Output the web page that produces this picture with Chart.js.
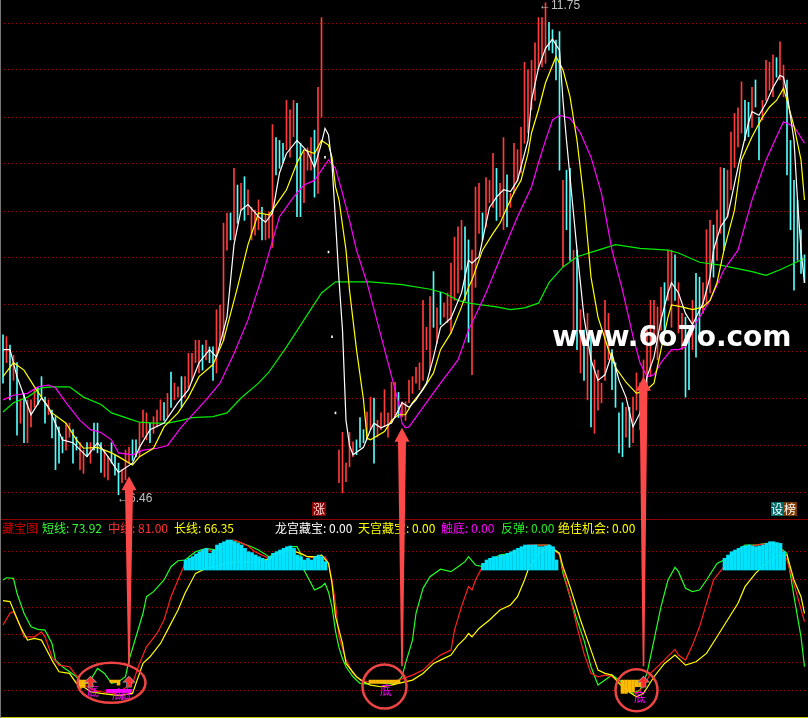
<!DOCTYPE html>
<html lang="zh">
<head>
<meta charset="UTF-8">
<title>藏宝图</title>
<script src="https://cdn.jsdelivr.net/npm/chart.js"></script>
<style>
  html, body { margin: 0; padding: 0; background: #000; }
  #wrap { position: relative; width: 808px; height: 718px; background: #000; overflow: hidden; }
  #wrap canvas { position: absolute; left: 0; }
  .t { position: absolute; top: 521px; font-family: "Noto Sans CJK SC", sans-serif; font-size: 12px; line-height: 14px; white-space: nowrap; }
  .di { position: absolute; font-family: "Noto Sans CJK SC", sans-serif; font-size: 12px; line-height: 14px; color: #ff00ff; }
  .px { position: absolute; font-family: "Liberation Sans", sans-serif; font-size: 12px; line-height: 14px; color: #c0c0c0; white-space: nowrap; }
  .tag { position: absolute; top: 502px; height: 14px; font-family: "Noto Sans CJK SC", sans-serif; font-size: 12px; line-height: 14px; text-align: center; }
  #site { position: absolute; left: 552px; top: 323px; font-family: "DejaVu Sans", sans-serif; font-weight: bold; font-size: 28px; line-height: 28px; color: #fff; white-space: nowrap; }
</style>
</head>
<body>
<div id="wrap">
  <canvas id="priceChart" width="808" height="518" style="top:0"></canvas>
  <canvas id="oscChart" width="808" height="198" style="top:520px"></canvas>
  <div style="position:absolute;left:0;top:519px;width:808px;height:1px;background:#8c0000"></div>
  <div style="position:absolute;left:0;top:717px;width:808px;height:1px;background:#c8c800"></div>
  <div style="position:absolute;left:0;top:0;width:1px;height:718px;background:#777"></div>

  <span class="t" style="left:2px;color:#c80000">藏宝图</span>
  <span class="t" style="left:42px;color:#33ff33">短线: 73.92</span>
  <span class="t" style="left:108px;color:#ff3333">中线: 81.00</span>
  <span class="t" style="left:174px;color:#ffff00">长线: 66.35</span>
  <span class="t" style="left:275px;color:#ffffff">龙宫藏宝: 0.00</span>
  <span class="t" style="left:358px;color:#ffff00">天宫藏宝: 0.00</span>
  <span class="t" style="left:441px;color:#ff00ff">触底: 0.00</span>
  <span class="t" style="left:501px;color:#22ee22">反弹: 0.00</span>
  <span class="t" style="left:558px;color:#ffff00">绝佳机会: 0.00</span>

  <span class="tag" style="left:312px;width:14px;background:#8b0000;color:#ffd8d8">涨</span>
  <span class="tag" style="left:771px;width:12px;background:#006c6c;color:#fff">设</span>
  <span class="tag" style="left:783px;width:14px;background:#7a3a00;color:#fff">榜</span>

  <span class="px" style="left:539px;top:-2px">←11.75</span>
  <span class="px" style="left:117px;top:491px">←6.46</span>

  <span class="di" style="left:87px;top:684px">底</span>
  <span class="di" style="left:112px;top:687px">底</span>
  <span class="di" style="left:121px;top:687px">底</span>
  <span class="di" style="left:380px;top:683px">底</span>
  <span class="di" style="left:634px;top:690px">底</span>

  <canvas id="marks" width="808" height="718" style="top:0"></canvas>
  <div id="site">www.6o7o.com</div>
</div>
<script>
// K线: 每根的最高价/最低价, r=阳 c=阴 w=一字
const candleHigh = [
  8.18, 8.16, 8.07, 7.96, 7.88, 7.48, 7.55, 7.48, 7.48, 7.59,
  7.61, 7.73, 7.51, 7.48, 7.37, 7.30, 7.19, 7.08, 7.23, 7.23,
  7.16, 7.08, 7.02, 6.94, 7.02, 7.02, 7.23, 7.23, 7.02, 6.94,
  6.87, 7.02, 6.89, 6.80, 6.73, 6.94, 6.97, 7.05, 7.05, 7.23,
  7.37, 7.34, 7.23, 7.30, 7.37, 7.48, 7.45, 7.55, 7.78, 7.66,
  7.62, 7.73, 7.73, 7.98, 7.98, 8.12, 8.12, 8.07, 8.12, 8.05,
  8.05, 8.45, 8.50, 9.38, 9.49, 9.49, 9.97, 9.79, 9.81, 9.88,
  9.74, 9.55, 9.52, 9.63, 9.55, 9.47, 9.50, 10.44, 10.30, 10.27,
  10.24, 10.70, 10.60, 10.70, 10.67, 10.24, 10.15, 10.19, 10.30, 10.38,
  10.84, 11.59, 10.10, 9.08, 8.17, 7.35, 6.94, 7.13, 6.80, 7.13,
  7.03, 7.05, 7.29, 7.16, 7.35, 7.51, 7.50, 7.26, 7.34, 7.59,
  7.34, 7.67, 7.67, 7.56, 7.46, 7.46, 7.69, 7.73, 7.83, 7.88,
  8.55, 8.26, 8.59, 8.86, 8.47, 8.64, 8.52, 8.63, 8.95, 9.23,
  9.34, 9.41, 9.34, 9.20, 9.09, 9.77, 9.81, 9.49, 9.87, 9.84,
  10.13, 9.97, 9.81, 10.30, 9.90, 9.70, 10.24, 10.17, 10.41, 11.11,
  11.03, 11.13, 11.32, 11.59, 11.59, 11.75, 11.54, 11.46, 11.35, 11.44,
  9.84, 9.95, 9.97, 9.09, 9.09, 8.45, 8.23, 8.41, 8.16, 7.91,
  7.80, 7.66, 8.55, 8.41, 8.02, 7.88, 7.34, 7.45, 7.40, 7.40,
  7.51, 7.77, 7.66, 7.91, 8.23, 8.55, 8.55, 8.48, 8.69, 8.74,
  9.09, 9.09, 9.04, 8.74, 8.41, 8.37, 8.20, 8.55, 8.84, 8.80,
  8.74, 9.31, 9.41, 9.36, 9.52, 9.98, 9.97, 9.95, 10.36, 10.56,
  10.62, 10.90, 10.70, 10.68, 10.84, 10.92, 10.52, 10.70, 11.13, 11.11,
  11.19, 11.16, 11.33, 11.08, 10.92, 10.27, 9.84, 9.63, 9.31, 9.04
];
const candleLow = [
  7.66, 7.88, 7.48, 7.69, 7.10, 7.23, 7.02, 7.02, 7.19, 7.40,
  7.43, 7.51, 7.23, 7.32, 7.07, 6.73, 6.80, 6.91, 6.94, 7.08,
  6.80, 6.94, 6.73, 6.69, 6.87, 6.80, 6.94, 6.91, 6.70, 6.65,
  6.62, 6.80, 6.67, 6.46, 6.59, 6.62, 6.80, 6.83, 6.87, 6.87,
  7.08, 7.05, 7.02, 7.12, 7.19, 7.26, 7.26, 7.30, 7.40, 7.48,
  7.51, 7.40, 7.51, 7.59, 7.69, 7.88, 7.77, 7.80, 7.91, 7.88,
  7.69, 7.77, 8.07, 8.12, 9.09, 9.20, 9.20, 9.38, 9.52, 9.41,
  9.47, 9.20, 9.25, 9.31, 9.20, 9.20, 9.22, 9.12, 9.90, 9.97,
  10.03, 10.17, 10.09, 10.31, 9.45, 9.45, 9.60, 9.95, 9.95, 9.66,
  9.70, 10.52, 10.08, 9.06, 8.15, 7.33, 6.59, 6.48, 6.60, 6.76,
  6.87, 6.89, 6.97, 7.02, 7.05, 7.16, 6.80, 7.08, 7.16, 7.19,
  7.08, 7.23, 7.29, 7.29, 7.30, 7.26, 7.45, 7.55, 7.66, 7.59,
  7.69, 8.02, 7.80, 8.26, 8.09, 8.29, 8.37, 8.31, 8.20, 8.55,
  8.63, 8.88, 8.55, 8.10, 7.75, 8.69, 9.27, 9.20, 9.34, 9.60,
  9.55, 9.41, 9.45, 9.31, 9.34, 9.55, 9.70, 9.84, 9.92, 10.24,
  10.35, 10.60, 10.70, 11.03, 11.06, 11.10, 11.24, 11.21, 10.92, 9.95,
  8.91, 9.31, 8.98, 8.12, 8.02, 7.77, 7.69, 7.48, 7.19, 7.12,
  7.37, 7.45, 7.69, 7.91, 7.59, 7.40, 6.91, 6.87, 7.08, 6.97,
  7.02, 7.37, 7.16, 7.37, 7.59, 7.73, 8.09, 7.91, 8.23, 8.20,
  8.55, 8.26, 8.55, 8.20, 8.02, 7.51, 7.59, 8.02, 7.94, 8.16,
  8.41, 8.52, 8.63, 8.80, 8.98, 9.27, 9.09, 9.45, 9.74, 9.98,
  10.20, 10.35, 10.27, 10.31, 10.41, 10.63, 10.06, 10.49, 10.70, 10.81,
  10.74, 10.95, 10.92, 10.74, 9.90, 9.31, 8.66, 8.98, 8.84, 8.74
];
const candleTone = [
  "crcrcrcrrr", "cccrccccrr", "ccrrcrcccr", "rcccrrrccr", "rrcrrrcrcr",
  "rcrrrrrcrc", "crrrrcrcrc", "rrrrcrrrcc", "crrrccrrrc", "rrwwwwrrrr",
  "rcccrrcrrr", "rrrcrrrrrr", "rrrcrcrrrr", "rrccrrrcrr", "rcrrcrrrrr",
  "rrrrrrcccc", "rccrcrcrcr", "rrrrccccrc", "rrrrrrrrrc", "rrcrrccrcc",
  "rrrcrrcrrr", "rrccrccrrr", "rcrrcccccc"
].join('');

// 均线 [K线序号, 价格]
const ma5 = [[0,8.02],[2,8.02],[4,7.73],[8,7.32],[11,7.50],[13,7.40],[17,7.05],[20,7.02],[24,6.87],[27,7.02],[30,6.87],[33,6.70],[37,6.80],[39,6.97],[42,7.16],[46,7.23],[50,7.45],[53,7.59],[56,7.88],[59,8.02],[61,7.94],[64,8.37],[66,9.15],[68,9.52],[70,9.58],[73,9.45],[75,9.39],[77,9.49],[79,9.92],[81,10.13],[84,10.27],[87,10.15],[89,9.98],[91,10.24],[92,10.40],[93,10.33],[94,10.01],[95,9.41],[96,8.77],[97,8.23],[98,7.26],[99,6.99],[100,6.89],[103,6.97],[105,7.16],[106,7.23],[108,7.18],[111,7.23],[113,7.37],[114,7.45],[116,7.40],[118,7.48],[121,7.66],[123,7.94],[125,8.26],[128,8.36],[131,8.63],[133,8.98],[134,8.95],[136,9.02],[139,9.55],[141,9.66],[143,9.74],[145,9.72],[147,9.84],[150,10.27],[151,10.70],[153,11.05],[155,11.26],[157,11.36],[159,11.24],[160,10.70],[161,10.27],[162,9.88],[164,9.09],[166,8.37],[168,7.91],[170,7.69],[172,7.75],[174,7.98],[176,7.69],[178,7.51],[180,7.19],[182,7.34],[184,7.73],[186,7.94],[188,8.34],[190,8.63],[191,8.74],[193,8.63],[195,8.41],[197,8.29],[200,8.52],[202,8.80],[203,9.09],[205,9.34],[207,9.45],[210,9.98],[213,10.46],[214,10.58],[216,10.54],[218,10.67],[220,10.84],[222,10.97],[223,10.95],[224,10.78],[226,10.27],[227,9.63],[228,9.09],[229,8.74]];
const ma10 = [[0,7.73],[3,7.88],[6,7.80],[9,7.62],[11,7.51],[14,7.34],[18,7.23],[21,7.05],[23,6.96],[27,6.97],[31,6.91],[33,6.87],[37,6.78],[39,6.87],[43,6.96],[46,7.19],[50,7.34],[53,7.51],[56,7.73],[60,7.86],[63,8.12],[67,8.69],[70,9.15],[73,9.49],[76,9.47],[77,9.52],[79,9.63],[81,9.74],[84,10.03],[86,10.17],[89,10.13],[91,10.27],[93,10.22],[94,10.09],[95,9.77],[96,9.63],[98,9.09],[99,8.66],[101,8.02],[103,7.48],[104,7.07],[105,7.05],[109,7.14],[111,7.26],[113,7.32],[115,7.32],[117,7.45],[120,7.59],[123,7.77],[125,8.02],[128,8.20],[131,8.48],[133,8.69],[134,8.77],[137,9.09],[140,9.27],[142,9.38],[144,9.55],[146,9.71],[148,9.84],[150,10.13],[151,10.35],[153,10.60],[155,10.89],[158,11.17],[160,11.03],[162,10.74],[164,10.27],[166,9.63],[168,8.80],[170,8.37],[173,8.02],[175,7.83],[178,7.67],[181,7.55],[184,7.59],[186,7.66],[188,8.02],[190,8.37],[191,8.50],[194,8.48],[197,8.45],[200,8.48],[202,8.55],[204,8.74],[206,9.09],[209,9.52],[211,10.06],[214,10.31],[217,10.52],[219,10.63],[221,10.70],[223,10.83],[224,10.70],[226,10.42],[228,10.06],[229,9.63]];
const ma20 = [[0,7.48],[3,7.53],[7,7.55],[10,7.62],[13,7.64],[15,7.61],[18,7.45],[22,7.26],[25,7.16],[28,7.13],[31,7.05],[33,6.91],[37,6.89],[40,6.94],[44,6.96],[47,6.99],[51,7.19],[58,7.48],[62,7.66],[66,7.98],[70,8.34],[74,8.80],[79,9.45],[83,9.66],[86,9.79],[89,9.84],[91,9.95],[93,10.06],[95,9.97],[97,9.70],[99,9.41],[101,9.09],[104,8.74],[107,8.31],[110,7.88],[113,7.45],[114,7.23],[115,7.18],[116,7.19],[120,7.40],[125,7.66],[130,7.91],[133,8.23],[138,8.63],[143,9.09],[147,9.45],[151,9.77],[153,10.03],[155,10.27],[157,10.49],[159,10.54],[162,10.51],[165,10.35],[168,10.09],[171,9.70],[174,9.09],[177,8.66],[180,8.16],[182,7.88],[184,7.73],[186,7.75],[188,7.88],[191,8.02],[193,8.02],[195,8.05],[198,8.31],[202,8.55],[206,8.88],[210,9.09],[214,9.63],[218,10.06],[221,10.31],[223,10.47],[226,10.42],[229,10.24]];
const ma60 = [[0,7.35],[3,7.45],[7,7.51],[11,7.61],[14,7.62],[19,7.62],[23,7.51],[28,7.43],[31,7.34],[35,7.29],[39,7.24],[43,7.23],[47,7.23],[51,7.26],[54,7.29],[60,7.30],[64,7.34],[68,7.50],[73,7.66],[76,7.78],[81,8.05],[86,8.34],[91,8.63],[95,8.75],[105,8.75],[114,8.72],[122,8.67],[126,8.63],[130,8.55],[133,8.52],[141,8.48],[145,8.45],[149,8.47],[153,8.52],[156,8.74],[160,8.91],[164,9.02],[170,9.09],[175,9.15],[182,9.11],[190,9.09],[193,9.06],[199,8.96],[205,8.93],[214,8.86],[218,8.82],[222,8.88],[226,8.95],[229,9.00]];
const priceGrid = [11.53, 11.03, 10.52, 10.02, 9.51, 9.01, 8.51, 8.00, 7.49, 6.99, 6.48];

// 副图 藏宝图 [K线序号, 数值]
const shortLine = [[0,74.6],[1,75.8],[3,75.5],[4,67.4],[6,56.6],[8,49.3],[10,47.9],[12,47.5],[14,40.3],[15,31.3],[17,27.7],[19,25.0],[21,22.3],[23,17.8],[25,20.5],[27,26.8],[29,24.1],[31,18.7],[33,19.6],[35,22.3],[36,31.3],[38,43.9],[40,56.6],[41,65.6],[43,68.3],[46,74.6],[48,81.8],[50,85.0],[52,85.4],[55,89.9],[58,91.7],[61,90.8],[64,94.4],[67,95.3],[71,92.6],[73,90.8],[76,87.2],[78,89.0],[82,92.6],[84,92.6],[85,89.0],[86,80.0],[88,72.8],[89,69.2],[91,71.0],[92,72.8],[93,68.0],[94,60.0],[95,47.0],[96,38.0],[97,32.0],[98,27.7],[100,22.3],[102,18.7],[104,18.4],[106,19.6],[109,18.7],[112,18.4],[114,22.3],[115,29.5],[117,42.1],[118,56.6],[120,70.1],[122,76.4],[125,80.4],[128,79.1],[130,81.8],[132,84.5],[133,87.2],[135,82.7],[137,81.8],[139,85.4],[142,88.1],[145,89.0],[147,90.8],[150,93.0],[153,93.5],[156,93.5],[159,89.0],[160,78.2],[162,65.6],[164,53.0],[166,42.1],[168,27.7],[170,17.8],[172,20.5],[174,23.2],[176,20.5],[178,16.9],[180,13.3],[182,15.1],[184,24.1],[186,42.1],[188,60.2],[190,74.6],[192,81.4],[193,79.1],[195,70.1],[197,68.3],[199,69.2],[201,74.6],[204,83.6],[207,86.3],[210,90.8],[212,93.5],[215,93.5],[218,94.4],[221,93.5],[224,89.0],[226,65.6],[228,43.9],[229,27.7]];
const midLine = [[0,50.3],[2,56.6],[3,57.5],[5,49.3],[6,43.9],[9,43.9],[11,46.6],[12,43.9],[14,33.1],[16,28.6],[19,27.7],[22,20.5],[24,16.9],[26,15.1],[28,14.2],[32,13.3],[34,15.1],[37,18.7],[39,29.5],[41,38.5],[44,45.7],[46,53.0],[48,65.6],[50,74.6],[52,83.6],[54,86.3],[56,89.0],[58,91.7],[60,89.4],[62,93.5],[64,95.3],[66,96.2],[68,94.8],[70,93.0],[72,89.9],[73,89.0],[76,86.3],[78,87.2],[82,90.8],[85,89.0],[87,87.2],[90,86.3],[92,87.2],[93,83.6],[94,74.6],[95,62.0],[96,43.9],[98,31.3],[100,24.1],[102,20.5],[104,19.6],[110,19.6],[113,20.5],[117,23.2],[120,25.9],[123,31.3],[125,34.0],[128,36.7],[129,47.5],[131,60.2],[133,71.0],[134,69.2],[135,74.6],[137,81.8],[139,85.4],[142,87.2],[145,88.1],[147,90.8],[150,93.5],[153,93.5],[156,93.5],[159,88.1],[160,80.0],[162,65.6],[164,49.3],[166,34.9],[168,24.1],[170,22.3],[172,23.2],[174,22.3],[176,19.6],[178,16.0],[181,13.3],[183,16.9],[185,24.1],[188,29.5],[192,37.1],[193,34.0],[195,31.3],[197,39.4],[199,49.3],[201,62.0],[203,74.6],[206,81.8],[209,89.0],[212,92.6],[215,93.5],[219,94.4],[222,92.6],[224,85.4],[227,65.6],[229,52.1]];
const longLine = [[0,63.4],[2,62.9],[3,58.4],[5,49.3],[7,42.1],[9,43.0],[11,42.1],[12,38.5],[14,31.3],[16,25.0],[19,24.1],[21,18.7],[23,16.9],[25,14.2],[28,13.3],[32,12.4],[34,12.4],[37,13.3],[38,18.7],[40,29.5],[42,33.1],[45,40.3],[47,47.5],[50,58.4],[52,67.4],[55,78.2],[58,80.9],[61,82.0],[64,83.6],[68,84.5],[72,84.0],[76,86.0],[78,89.0],[82,90.8],[85,89.0],[87,87.2],[90,87.2],[91,88.1],[93,83.6],[94,72.8],[95,54.8],[97,40.3],[98,29.5],[101,22.3],[103,19.6],[105,17.8],[108,16.9],[111,17.8],[113,18.7],[117,20.5],[120,24.1],[123,29.5],[125,31.3],[128,34.0],[130,39.4],[132,43.0],[133,45.7],[134,43.9],[136,48.4],[139,53.0],[142,58.4],[145,61.1],[147,65.6],[149,74.6],[150,80.0],[152,86.3],[153,89.0],[156,92.6],[159,89.0],[160,81.8],[162,71.0],[165,53.0],[168,36.7],[170,25.9],[172,24.1],[174,23.2],[176,18.7],[178,15.1],[181,11.5],[183,13.3],[186,22.3],[189,29.5],[192,34.0],[193,32.2],[195,28.6],[198,30.4],[201,34.9],[204,43.9],[207,53.0],[210,62.0],[212,71.0],[215,78.2],[218,83.6],[222,88.1],[224,88.1],[226,74.6],[228,65.6],[229,56.6]];

const stickBase = 80;
const sticks = [[53,85.4],[54,86.3],[55,87.2],[56,88.6],[57,89.9],[58,91.1],[59,91.7],[60,89.0],[61,90.8],[62,93.5],[63,94.4],[64,95.3],[65,96.2],[66,96.2],[67,95.3],[68,94.4],[69,93.5],[70,91.7],[71,89.9],[72,89.4],[73,88.1],[74,87.2],[75,86.3],[76,85.4],[77,87.2],[78,89.0],[79,89.9],[80,90.8],[81,91.7],[82,92.6],[83,93.0],[84,91.7],[85,88.1],[86,87.2],[87,85.4],[88,86.3],[89,85.4],[90,87.2],[91,88.1],[92,87.2],[93,84.5],
  [138,83.6],[139,85.4],[140,86.3],[141,87.2],[142,87.2],[143,88.1],[144,88.1],[145,89.0],[146,89.9],[147,90.8],[148,91.7],[149,92.6],[150,93.5],[151,93.5],[152,93.5],[153,93.5],[154,92.6],[155,92.6],[156,93.0],[157,93.5],[158,92.6],[159,85.4],
  [207,86.3],[208,88.1],[209,89.9],[210,90.8],[211,91.7],[212,92.6],[213,93.0],[214,93.5],[215,93.0],[216,92.6],[217,93.0],[218,93.5],[219,94.4],[220,95.3],[221,95.3],[222,94.8],[223,94.4],[224,89.9]];
// 底部信号 [序号, 下沿, 上沿]
const bottomBars = [[22,16.0,20.5],[23,16.5,20.5],[24,18.7,20.5],[31,19.2,20.5],[32,19.2,20.5],[33,17.8,20.5],
  [105,18.7,20.5],[106,18.7,20.5],[107,18.7,20.5],[108,18.7,20.5],[109,18.7,20.5],[110,18.7,20.5],[111,18.7,20.5],[112,18.7,20.5],[113,18.7,20.5],
  [177,13.3,20.5],[178,13.3,20.5],[179,14.2,20.5],[180,14.2,20.5],[181,16.9,20.5],[182,16.9,20.5]];
const touchBars = [[29,13.8,15.5],[30,13.8,15.5],[31,13.8,15.5],[32,13.8,15.5],[33,13.8,15.5],[34,13.8,15.5],[35,13.8,15.5]];
const oscGrid = [15, 30, 45, 60, 75, 90];

// 标注
const signalIdx = [36, 114, 183];
const signalTip = [6.66, 7.18, 7.73];
const signalFoot = 28;
const ringIdx = [31, 109, 181];
const ringVal = [19, 17, 15];
const markIdx = [25, 36, 183];
const markVal = 19;

const X_MIN = -0.857, X_MAX = 230;
const pts = arr => arr.map(([x, y]) => ({ x, y }));
const tone = { r: '#ff3c3c', c: '#54fcfc', w: '#ffffff' };

function line(data, color, order) {
  return { type: 'line', data: pts(data), borderColor: color, borderWidth: 1.2, pointRadius: 0, tension: 0, fill: false, order };
}
function gridY(min, max, ticks) {
  return {
    min, max, position: 'left',
    ticks: { display: false },
    grid: { color: '#a80000', lineWidth: 1, drawTicks: false },
    border: { display: false, dash: [1, 3] },
    afterBuildTicks: s => { s.ticks = ticks.map(v => ({ value: v })); },
    afterFit: s => { s.width = 0; }
  };
}
const base = {
  responsive: false, animation: false, devicePixelRatio: 1,
  layout: { padding: 0 },
  plugins: { legend: { display: false }, tooltip: { enabled: false } }
};

const candles = candleHigh.map((h, i) => ({ x: i, y: [candleLow[i], h] }));
const priceChart = new Chart(document.getElementById('priceChart'), {
  type: 'bar',
  data: {
    datasets: [
      line(ma5, '#ffffff', 0),
      line(ma10, '#ffff00', 1),
      line(ma20, '#ff00ff', 2),
      line(ma60, '#00ee00', 3),
      { type: 'bar', data: candles, backgroundColor: candles.map((_, i) => tone[candleTone[i]]), barThickness: 1, order: 10 }
    ]
  },
  options: {
    ...base,
    scales: {
      x: { type: 'linear', min: X_MIN, max: X_MAX, display: false, offset: false },
      y: gridY(6.21, 11.78, priceGrid)
    }
  }
});

const oscChart = new Chart(document.getElementById('oscChart'), {
  type: 'bar',
  data: {
    datasets: [
      { type: 'bar', data: sticks.map(([x, v]) => ({ x, y: [stickBase, v] })), backgroundColor: '#00e5ff', barThickness: 3, order: 0 },
      { type: 'bar', data: bottomBars.map(([x, a, b]) => ({ x, y: [a, b] })), backgroundColor: '#ffbb00', barThickness: 3, order: 0 },
      { type: 'bar', data: touchBars.map(([x, a, b]) => ({ x, y: [a, b] })), backgroundColor: '#ff00ff', barThickness: 4, order: 0 },
      line(shortLine, '#22ff22', 3),
      line(midLine, '#ff2020', 2),
      line(longLine, '#ffff00', 1)
    ]
  },
  options: {
    ...base,
    scales: {
      x: { type: 'linear', min: X_MIN, max: X_MAX, display: false, offset: false },
      y: gridY(0, 107.03, oscGrid)
    }
  }
});

// 箭头和圈
const ov = document.getElementById('marks').getContext('2d');
const OSC_TOP = 520;
const px = i => priceChart.scales.x.getPixelForValue(i);
const py = p => priceChart.scales.y.getPixelForValue(p);
const oy = v => OSC_TOP + oscChart.scales.y.getPixelForValue(v);

signalIdx.forEach((idx, k) => {
  const x = px(idx), tip = py(signalTip[k]), foot = oy(signalFoot);
  ov.fillStyle = '#fb4848';
  ov.beginPath();
  ov.moveTo(x, tip);
  ov.lineTo(x + 7.5, tip + 14);
  ov.lineTo(x + 4, tip + 14);
  ov.lineTo(x + 0.8, foot);
  ov.lineTo(x - 0.8, foot);
  ov.lineTo(x - 4, tip + 14);
  ov.lineTo(x - 7.5, tip + 14);
  ov.closePath();
  ov.fill();
});

const ringSize = [[34, 20], [22, 22], [21, 21]];
ov.strokeStyle = '#ee4444';
ov.lineWidth = 2.5;
ringIdx.forEach((idx, k) => {
  ov.beginPath();
  ov.ellipse(px(idx), oy(ringVal[k]), ringSize[k][0], ringSize[k][1], 0, 0, Math.PI * 2);
  ov.stroke();
});

markIdx.forEach(idx => {
  const x = px(idx), y = oy(markVal) - 6;
  const shape = () => {
    ov.beginPath();
    ov.moveTo(x, y);
    ov.lineTo(x + 5, y + 5);
    ov.lineTo(x + 2, y + 5);
    ov.lineTo(x + 2, y + 10);
    ov.lineTo(x - 2, y + 10);
    ov.lineTo(x - 2, y + 5);
    ov.lineTo(x - 5, y + 5);
    ov.closePath();
  };
  shape();
  ov.lineWidth = 1.5;
  ov.strokeStyle = '#9a9a9a';
  ov.stroke();
  ov.fillStyle = '#ff2a2a';
  ov.fill();
});
</script>
</body>
</html>
